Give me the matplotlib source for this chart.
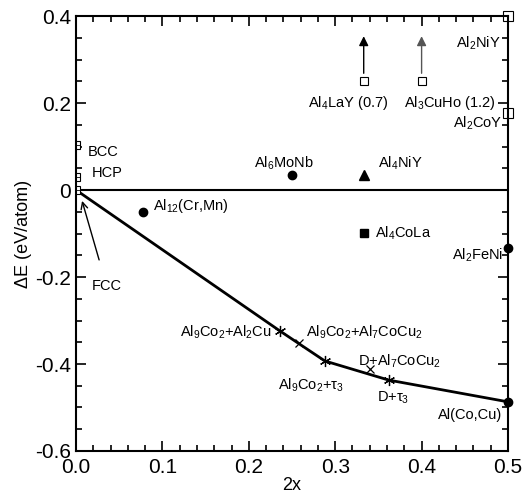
import matplotlib.pyplot as plt
from matplotlib.ticker import MultipleLocator

plt.rcParams['font.family'] = ['Liberation Sans', 'DejaVu Sans']
plt.rcParams['mathtext.fontset'] = 'custom'
plt.rcParams['mathtext.rm'] = 'Liberation Sans'
plt.rcParams['mathtext.it'] = 'Liberation Sans'

# convex hull (tie-lines)
hull_x = [0.0, 0.236, 0.288, 0.362, 0.5]
hull_y = [0.0, -0.324, -0.393, -0.437, -0.487]

# pure Al structures
al_x = [0.0, 0.0, 0.0]
al_y = [0.0, 0.03, 0.103]

# open-square compounds
open_x = [0.5, 0.5]
open_y = [0.4, 0.177]
arrow_x = [0.333, 0.4]
arrow_y = [0.25, 0.25]
arrow_top = [0.36, 0.36]

# filled markers
circ_x = [0.0775, 0.25, 0.5, 0.5]
circ_y = [-0.05, 0.034, -0.133, -0.487]
tri_x, tri_y = [0.333], [0.034]
sq_x, sq_y = [0.333], [-0.099]

# two-phase points
star_x = [0.236, 0.288, 0.362]
star_y = [-0.324, -0.393, -0.437]
cross_x = [0.258, 0.340]
cross_y = [-0.352, -0.412]

fig = plt.figure(figsize=(5.25, 4.93), dpi=100)
ax = fig.add_axes([0.1448, 0.0852, 0.8228, 0.8823])

ax.axhline(0, color='black', lw=1.5)
ax.plot(hull_x, hull_y, color='black', lw=2)

ax.plot(al_x, al_y, ls='none', marker='s', ms=6, mfc='white', mec='black', mew=0.8)
ax.plot(al_x, al_y, ls='none', marker='+', ms=6, color='black', mew=0.6)
ax.plot(open_x, open_y, ls='none', marker='s', ms=7, mfc='white', mec='black', mew=0.8, clip_on=False)
ax.plot(arrow_x, arrow_y, ls='none', marker='s', ms=6, mfc='white', mec='black', mew=0.8)
for i, (x, y, top) in enumerate(zip(arrow_x, arrow_y, arrow_top)):
    c = 'black' if i == 0 else '#555555'
    ax.annotate('', xy=(x, top), xytext=(x, y + 0.012),
                arrowprops=dict(arrowstyle='-|>', color=c, lw=1, mutation_scale=14))

ax.plot(circ_x, circ_y, ls='none', marker='o', ms=6, color='black', clip_on=False)
ax.plot(tri_x, tri_y, ls='none', marker='^', ms=7, color='black')
ax.plot(sq_x, sq_y, ls='none', marker='s', ms=6, color='black')
ax.plot(star_x, star_y, ls='none', marker=(6, 2, 0), ms=8, color='black', mew=0.9)
ax.plot(cross_x, cross_y, ls='none', marker='x', ms=6, color='black', mew=0.9)

fs = 10.5
ax.annotate('FCC', xy=(0.007, -0.025), xytext=(0.018, -0.22), fontsize=fs,
            va='center', ha='left',
            arrowprops=dict(arrowstyle='->', color='black', lw=1, shrinkA=12, shrinkB=0,
                            mutation_scale=12))

labels = [
    (0.491, 0.338, r'Al$_2$NiY', 'right'),
    (0.493, 0.154, r'Al$_2$CoY', 'right'),
    (0.315, 0.2, r'Al$_4$LaY (0.7)', 'center'),
    (0.433, 0.2, r'Al$_3$CuHo (1.2)', 'center'),
    (0.014, 0.087, 'BCC', 'left'),
    (0.018, 0.04, 'HCP', 'left'),
    (0.240, 0.062, r'Al$_6$MoNb', 'center'),
    (0.350, 0.062, r'Al$_4$NiY', 'left'),
    (0.089, -0.037, r'Al$_{12}$(Cr,Mn)', 'left'),
    (0.346, -0.100, r'Al$_4$CoLa', 'left'),
    (0.494, -0.150, r'Al$_2$FeNi', 'right'),
    (0.227, -0.328, r'Al$_9$Co$_2$+Al$_2$Cu', 'right'),
    (0.266, -0.326, r'Al$_9$Co$_2$+Al$_7$CoCu$_2$', 'left'),
    (0.326, -0.393, r'D+Al$_7$CoCu$_2$', 'left'),
    (0.234, -0.450, r'Al$_9$Co$_2$+$\tau_3$', 'left'),
    (0.348, -0.478, r'D+$\tau_3$', 'left'),
    (0.493, -0.517, 'Al(Co,Cu)', 'right'),
]
for x, y, s, ha in labels:
    ax.text(x, y, s, fontsize=fs, ha=ha, va='center')

ax.set_xlim(0, 0.5)
ax.set_ylim(-0.6, 0.4)
ax.xaxis.set_major_locator(MultipleLocator(0.1))
ax.xaxis.set_minor_locator(MultipleLocator(0.02))
ax.yaxis.set_major_locator(MultipleLocator(0.2))
ax.yaxis.set_minor_locator(MultipleLocator(0.05))
ax.tick_params(which='both', direction='in', top=True, right=True, width=1.2)
ax.tick_params(which='major', length=7, labelsize=15)
ax.tick_params(axis='x', which='major', pad=5)
ax.tick_params(which='minor', length=4)
for sp in ax.spines.values():
    sp.set_linewidth(1.5)
ax.xaxis.set_major_formatter(plt.FuncFormatter(lambda v, p: f'{v:.1f}'))
ax.yaxis.set_major_formatter(plt.FuncFormatter(lambda v, p: f'{v:.1f}' if abs(v) > 1e-9 else '0'))
ax.set_xlabel('2x', fontsize=13, labelpad=0)
ax.set_ylabel('ΔE (eV/atom)', fontsize=13, labelpad=2)

fig.savefig('out.png', dpi=100)
